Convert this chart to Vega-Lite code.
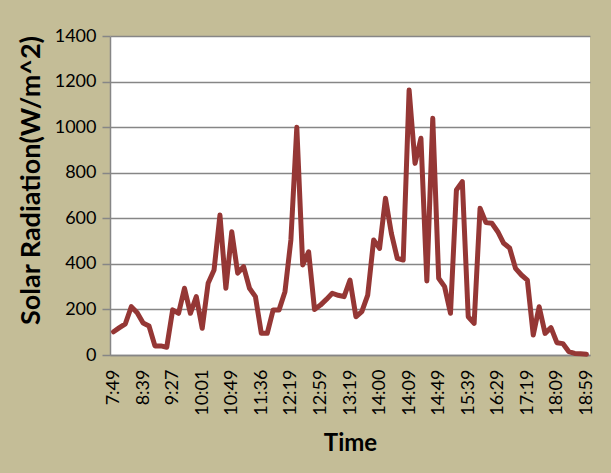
{
  "$schema": "https://vega.github.io/schema/vega-lite/v6.json",
  "autosize": {"type": "none"},
  "padding": {"left": 110, "top": 36, "right": 21, "bottom": 118},
  "width": 480,
  "height": 319,
  "background": "#C4BD97",
  "config": {
    "view": {"fill": "white", "stroke": null},
    "font": "Lato",
    "axis": {
      "labelFont": "Lato",
      "titleFont": "Lato",
      "labelColor": "#000000",
      "titleColor": "#000000",
      "domainColor": "#868686",
      "domainWidth": 1.5,
      "gridColor": "#868686",
      "gridWidth": 1.5,
      "tickColor": "#868686",
      "tickWidth": 1.5
    }
  },
  "data": {
    "values": [
      {"time": "7:49", "rad": 102}, {"time": "7:59", "rad": 120}, {"time": "8:09", "rad": 137}, {"time": "8:19", "rad": 212}, {"time": "8:29", "rad": 185},
      {"time": "8:39", "rad": 140}, {"time": "8:49", "rad": 127}, {"time": "8:59", "rad": 40}, {"time": "9:08", "rad": 40}, {"time": "9:18", "rad": 34},
      {"time": "9:27", "rad": 198}, {"time": "9:34", "rad": 183}, {"time": "9:41", "rad": 293}, {"time": "9:47", "rad": 183}, {"time": "9:54", "rad": 256},
      {"time": "10:01", "rad": 117}, {"time": "10:11", "rad": 315}, {"time": "10:20", "rad": 373}, {"time": "10:30", "rad": 614}, {"time": "10:39", "rad": 293},
      {"time": "10:49", "rad": 541}, {"time": "10:58", "rad": 359}, {"time": "11:08", "rad": 388}, {"time": "11:17", "rad": 293}, {"time": "11:27", "rad": 256},
      {"time": "11:36", "rad": 95}, {"time": "11:45", "rad": 95}, {"time": "11:53", "rad": 198}, {"time": "12:02", "rad": 198}, {"time": "12:10", "rad": 278},
      {"time": "12:19", "rad": 505}, {"time": "12:27", "rad": 999}, {"time": "12:35", "rad": 395}, {"time": "12:43", "rad": 453}, {"time": "12:51", "rad": 200},
      {"time": "12:59", "rad": 219}, {"time": "13:03", "rad": 244}, {"time": "13:07", "rad": 271}, {"time": "13:11", "rad": 262}, {"time": "13:15", "rad": 256},
      {"time": "13:19", "rad": 329}, {"time": "13:27", "rad": 168}, {"time": "13:35", "rad": 190}, {"time": "13:44", "rad": 263}, {"time": "13:52", "rad": 505},
      {"time": "14:00", "rad": 468}, {"time": "14:02", "rad": 688}, {"time": "14:04", "rad": 534}, {"time": "14:05", "rad": 424}, {"time": "14:07", "rad": 417},
      {"time": "14:09", "rad": 1163}, {"time": "14:17", "rad": 841}, {"time": "14:25", "rad": 951}, {"time": "14:33", "rad": 325}, {"time": "14:41", "rad": 1039},
      {"time": "14:49", "rad": 337}, {"time": "14:59", "rad": 300}, {"time": "15:09", "rad": 183}, {"time": "15:19", "rad": 724}, {"time": "15:29", "rad": 761},
      {"time": "15:39", "rad": 168}, {"time": "15:49", "rad": 139}, {"time": "15:59", "rad": 644}, {"time": "16:09", "rad": 581}, {"time": "16:19", "rad": 578},
      {"time": "16:29", "rad": 541}, {"time": "16:39", "rad": 490}, {"time": "16:49", "rad": 470}, {"time": "16:59", "rad": 380}, {"time": "17:09", "rad": 351},
      {"time": "17:19", "rad": 329}, {"time": "17:29", "rad": 88}, {"time": "17:39", "rad": 212}, {"time": "17:49", "rad": 95}, {"time": "17:59", "rad": 120},
      {"time": "18:09", "rad": 54}, {"time": "18:19", "rad": 50}, {"time": "18:29", "rad": 15}, {"time": "18:39", "rad": 7}, {"time": "18:49", "rad": 5},
      {"time": "18:59", "rad": 3}
    ]
  },
  "mark": {"type": "line", "color": "#953735", "strokeWidth": 5, "strokeJoin": "round", "strokeCap": "round"},
  "encoding": {
    "x": {
      "field": "time",
      "type": "ordinal",
      "sort": null,
      "scale": {"type": "point", "padding": 0.6},
      "axis": {
        "title": "Time",
        "titleFontSize": 24,
        "titleFontWeight": "bold",
        "titleY": 88,
        "titleBaseline": "middle",
        "values": ["7:49", "8:39", "9:27", "10:01", "10:49", "11:36", "12:19", "12:59", "13:19", "14:00", "14:09", "14:49", "15:39", "16:29", "17:19", "18:09", "18:59"],
        "labelAngle": 270,
        "labelAlign": "right",
        "labelBaseline": "middle",
        "labelFontSize": 18,
        "labelPadding": 14,
        "ticks": false,
        "grid": false
      }
    },
    "y": {
      "field": "rad",
      "type": "quantitative",
      "scale": {"domain": [0, 1400], "nice": false},
      "axis": {
        "title": "Solar Radiation(W/m^2)",
        "titleFontSize": 27,
        "titleFontWeight": "bold",
        "titleX": -79,
        "titleY": 144,
        "titleBaseline": "middle",
        "values": [0, 200, 400, 600, 800, 1000, 1200, 1400],
        "format": "d",
        "labelFontSize": 18,
        "labelPadding": 6,
        "tickSize": 8,
        "grid": true
      }
    }
  }
}
